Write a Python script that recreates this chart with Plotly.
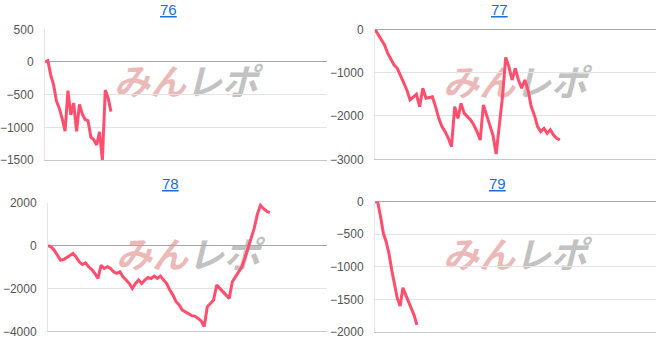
import numpy as np
import plotly.graph_objects as go

# ---- data ----
titles = ["76", "77", "78", "79"]

s76 = [0, 20, -200, -350, -600, -710, -870, -1060, -440, -810, -630, -1060,
       -650, -800, -880, -900, -1150, -1190, -1270, -1070, -1500, -430, -550, -760]

s77 = [0, -130, -245, -360, -555, -710, -825, -900, -1055, -1245, -1400, -1630,
       -1555, -1500, -1785, -1360, -1590, -1575, -1555, -1785, -2055, -2245, -2360,
       -2515, -2710, -1785, -2055, -1710, -1940, -2015, -2090, -2210, -2360, -2555,
       -1745, -1980, -2210, -2440, -2880, -2245, -1555, -650, -860, -1170, -900,
       -1170, -1360, -1170, -1400, -1785, -1980, -2245, -2360, -2285, -2400, -2320,
       -2440, -2515, -2555]

s78 = [0, -60, -215, -450, -680, -650, -560, -450, -370, -530, -760, -885, -805,
       -990, -1115, -1300, -1535, -915, -1070, -990, -1070, -1225, -1300, -1225,
       -1460, -1610, -1770, -2000, -1770, -1610, -1770, -1610, -1490, -1535, -1425,
       -1535, -1425, -1610, -1770, -2080, -2310, -2620, -2775, -3010, -3085, -3160,
       -3270, -3290, -3395, -3505, -3780, -2850, -2700, -2540, -1845, -2000, -2155,
       -2265, -2465, -1690, -1460, -1225, -1000, -600, -100, 400, 800, 1450, 1880,
       1720, 1600, 1535]

s79 = [0, -10, -230, -485, -615, -795, -1050, -1280, -1485, -1600, -1320, -1430,
       -1535, -1640, -1740, -1890]

series = [s76, s77, s78, s79]
y_ranges = [(-1500, 500), (-3000, 0), (-4000, 2000), (-2000, 0)]
y_steps = [500, 1000, 2000, 500]
# fraction of the x axis covered by each series
x_fill = [0.234, 0.658, 0.795, 0.149]

# ---- layout geometry (pixels in a 662x341 page) ----
W, H = 662, 341
plot_boxes = [  # (x0, x1, ytop, ybottom)
    (45, 327, 29.3, 160.0),
    (375, 656, 29.3, 159.3),
    (48, 327, 202.7, 331.3),
    (375, 656, 201.7, 332.0),
]
title_pos = [(168.5, 10), (499, 10), (170.5, 183), (498, 183)]
mark_pos = [(186, 85), (515, 86), (188, 258), (515, 258)]

LINE = "#ff4f6e"
FONT = "Liberation Sans, Arial, sans-serif"

fig = go.Figure()
annotations = []
shapes = []

for i, (data, (y0, y1), step, frac, box) in enumerate(
        zip(series, y_ranges, y_steps, x_fill, plot_boxes)):
    k = "" if i == 0 else str(i + 1)
    n = len(data)
    fig.add_trace(go.Scatter(
        x=np.arange(n), y=data, mode="lines",
        line=dict(color=LINE, width=3), hoverinfo="skip",
        xaxis="x" + k, yaxis="y" + k, showlegend=False))
    bx0, bx1, byt, byb = box
    fig.layout["xaxis" + k] = dict(
        domain=[bx0 / W, bx1 / W], range=[0, (n - 1) / frac],
        showgrid=False, zeroline=False, showticklabels=False,
        showline=True, linecolor="#c8c8c8", linewidth=1,
        anchor="y" + k, fixedrange=True, automargin=False)
    fig.layout["yaxis" + k] = dict(
        domain=[1 - byb / H, 1 - byt / H], range=[y0, y1],
        tickvals=list(range(y0, y1 + 1, step)),
        showgrid=True, gridcolor="#e3e3e3", gridwidth=1,
        zeroline=True, zerolinecolor="#a8a8a8", zerolinewidth=1,
        showline=True, linecolor="#e6e6e6",
        tickfont=dict(family=FONT, size=12, color="#555"),
        ticklabelstandoff=8, anchor="x" + k, fixedrange=True, automargin=False)
    tx, ty = title_pos[i]
    annotations.append(dict(
        text="<u>" + titles[i] + "</u>", x=tx / W, y=1 - ty / H,
        xref="paper", yref="paper", showarrow=False,
        xanchor="center", yanchor="middle",
        font=dict(family=FONT, size=15, color="#1a6fd6")))
    mx, my = mark_pos[i]
    shapes.append(dict(
        type="rect", xref="paper", yref="paper", layer="between",
        x0=(mx - 1) / W, x1=(mx + 1) / W, y0=1 - (my + 1) / H, y1=1 - (my - 1) / H,
        line=dict(width=0), fillcolor="rgba(0,0,0,0)",
        label=dict(
            text="<span style='color:#ecb9b9'>みん</span><span style='color:#c2c2c2'>レポ</span>",
            textposition="middle center",
            font=dict(family="Noto Sans CJK JP", size=36, weight="bold", style="italic"))))

fig.update_layout(
    width=W, height=H, margin=dict(l=0, r=0, t=0, b=0, pad=0, autoexpand=False),
    paper_bgcolor="white", plot_bgcolor="rgba(0,0,0,0)",
    annotations=annotations, shapes=shapes, showlegend=False)

fig.write_html("out.html", config={"displayModeBar": False})
